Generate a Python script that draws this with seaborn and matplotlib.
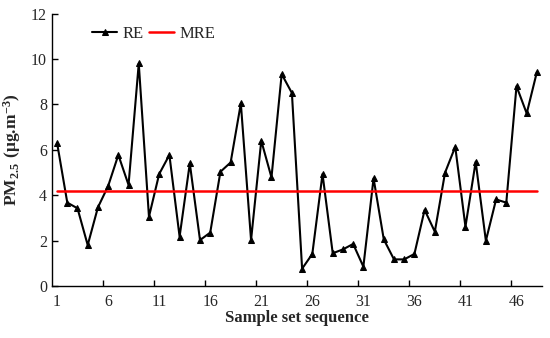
import matplotlib
matplotlib.use('Agg')
import matplotlib.pyplot as plt
import seaborn as sns
import pandas as pd
import numpy as np

# values
sample = list(range(1, 49))
re_values = [6.3, 3.67, 3.42, 1.80, 3.46, 4.40, 5.77, 4.45, 9.80, 3.05,
             4.93, 5.77, 2.17, 5.40, 2.02, 2.35, 5.03, 5.44, 8.04, 2.02,
             6.40, 4.78, 9.33, 8.50, 0.76, 1.41, 4.93, 1.44, 1.61, 1.85,
             0.85, 4.74, 2.05, 1.17, 1.17, 1.41, 3.35, 2.39, 4.99, 6.13,
             2.61, 5.47, 1.99, 3.81, 3.67, 8.80, 7.60, 9.43]
mre_value = 4.2
x_tick_labels = [1, 6, 11, 16, 21, 26, 31, 36, 41, 46]

df = pd.DataFrame({'Sample': sample, 'RE': re_values})

sns.set_style('ticks')
plt.rcParams['font.family'] = ['Liberation Serif', 'DejaVu Serif']
plt.rcParams['mathtext.fontset'] = 'custom'
plt.rcParams['mathtext.rm'] = 'Liberation Serif'
plt.rcParams['mathtext.bf'] = 'Liberation Serif:bold'

fig = plt.figure(figsize=(5.5, 3.38), dpi=100)
ax = fig.add_axes([0.0945, 0.154, 0.891, 0.806])

sns.lineplot(data=df, x='Sample', y='RE', ax=ax, color='black', linewidth=1.5,
             marker='^', markersize=5, markeredgecolor='black', label='RE')
sns.lineplot(x=[sample[0], sample[-1]], y=[mre_value, mre_value], ax=ax,
             color='red', linewidth=1.8, label='MRE')

ax.set_xlim(0.5, 48.5)
ax.set_ylim(0, 12)
ax.set_yticks(np.arange(0, 13, 2))
ax.set_xticks(x_tick_labels)
ax.set_xticklabels([str(v) for v in x_tick_labels])
ax.set_xticks([v - 0.5 for v in x_tick_labels[1:]], minor=True)
ax.tick_params(axis='x', which='major', length=0, labelsize=11.5, pad=6)
ax.tick_params(axis='x', which='minor', direction='in', length=4, width=1, color='black')
ax.tick_params(axis='y', direction='in', length=4, width=1, labelsize=11.5, color='black')

for s in ['top', 'right']:
    ax.spines[s].set_visible(False)
for s in ['left', 'bottom']:
    ax.spines[s].set_color('black')
    ax.spines[s].set_linewidth(1.0)

ax.set_xlabel('Sample set sequence', fontsize=12, fontweight='bold', labelpad=0)
ax.set_ylabel(r'$\mathbf{PM_{2.5}\ (μg.\!m^{-3})}$', fontsize=12.5, labelpad=6)

ax.legend(loc='upper left', bbox_to_anchor=(0.082, 0.955), ncol=2, frameon=False,
          borderpad=0, borderaxespad=0,
          fontsize=12, handlelength=1.5, handletextpad=0.3, columnspacing=0.35)

fig.savefig('out.png', dpi=100)
